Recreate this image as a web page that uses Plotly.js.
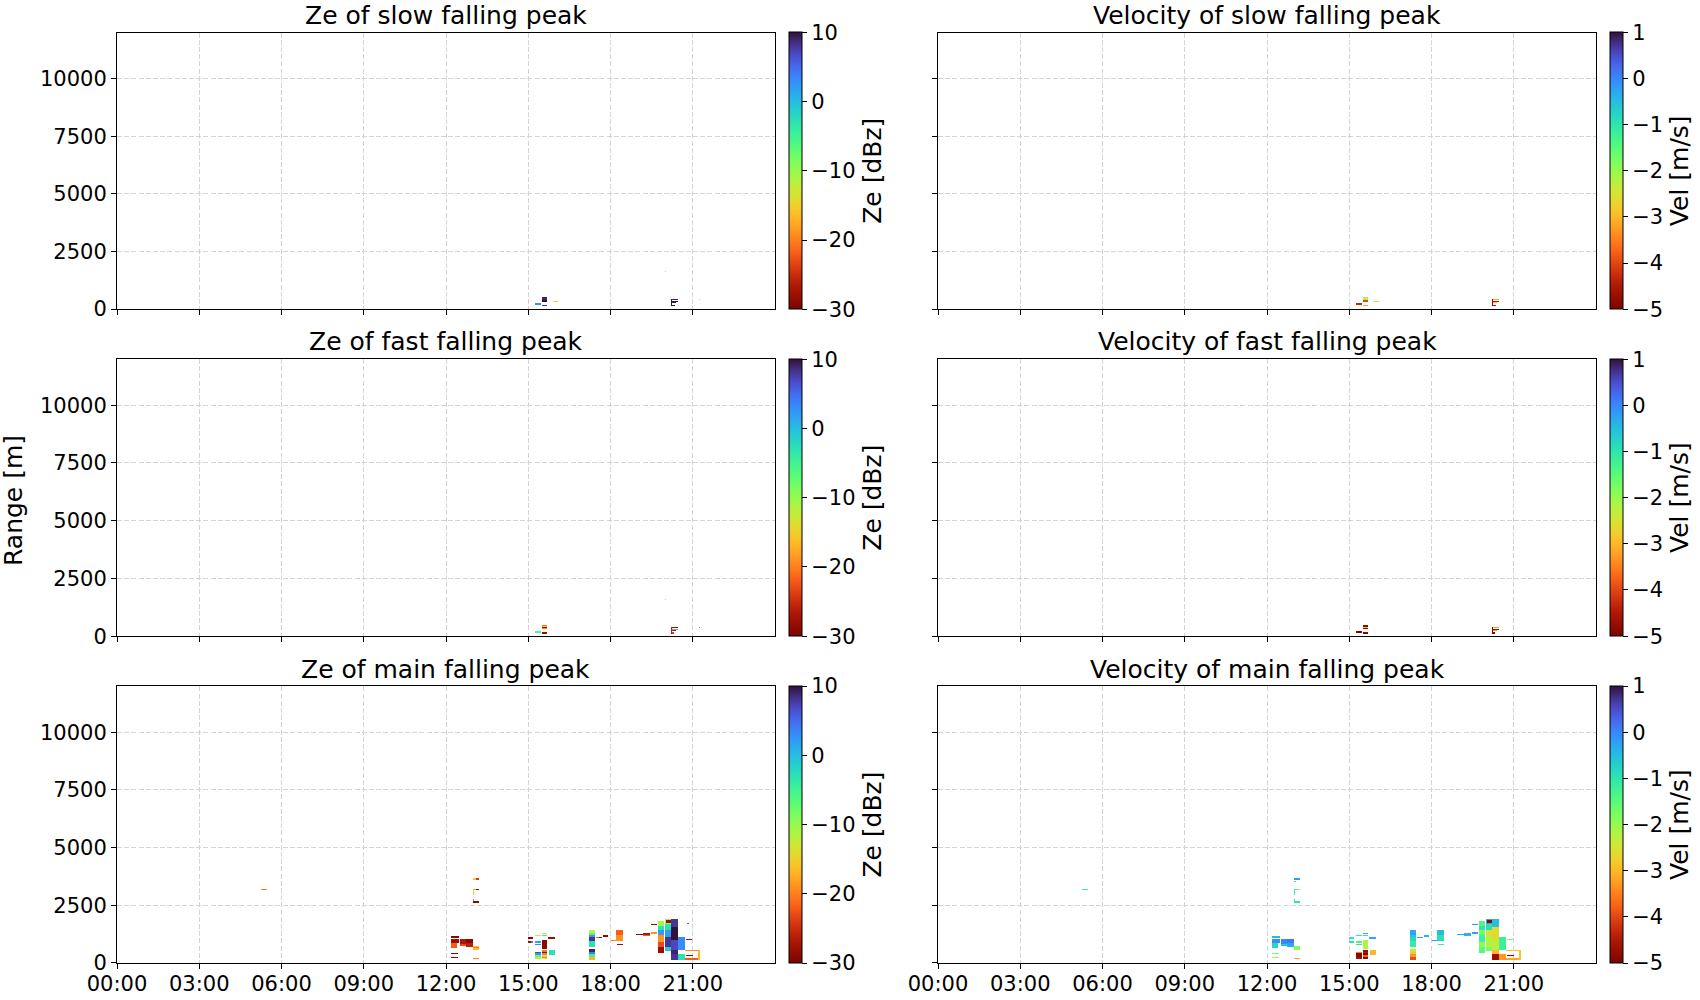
<!DOCTYPE html>
<html>
<head>
<meta charset="utf-8">
<script src="https://cdn.plot.ly/plotly-3.0.1.min.js"></script>
<style>html,body{margin:0;padding:0;background:#fff;}#plot{width:1700px;height:1000px;}</style>
</head>
<body>
<div id="plot"></div>
<script>
// ---------------- data ----------------
const TIME_TICKS = [0, 3, 6, 9, 12, 15, 18, 21];
const TIME_LABELS = ["00:00", "03:00", "06:00", "09:00", "12:00", "15:00", "18:00", "21:00"];
const RANGE_TICKS = [0, 2500, 5000, 7500, 10000];
const RANGE_LABELS = ["0", "2500", "5000", "7500", "10000"];
const ZE_TICKS = [-30, -20, -10, 0, 10];
const ZE_LABELS = ["\u221230", "\u221220", "\u221210", "0", "10"];
const VEL_TICKS = [-5, -4, -3, -2, -1, 0, 1];
const VEL_LABELS = ["\u22125", "\u22124", "\u22123", "\u22122", "\u22121", "0", "1"];
const TITLES = ["Ze of slow falling peak", "Velocity of slow falling peak",
                "Ze of fast falling peak", "Velocity of fast falling peak",
                "Ze of main falling peak", "Velocity of main falling peak"];

// slow falling peak: time start/end [h], range bottom/top [m], Ze [dBz], Vel [m/s]
const slowStart = [15.24, 15.50, 15.50, 15.50, 15.90, 20.00, 21.23, 20.25, 20.20, 20.25, 20.20, 20.25];
const slowEnd   = [15.45, 15.67, 15.67, 15.67, 16.10, 20.03, 21.26, 20.45, 20.45, 20.40, 20.25, 20.33];
const slowLow   = [180, 390, 300, 140, 310, 1610, 410, 400, 290, 240, 140, 140];
const slowHigh  = [230, 520, 390, 180, 350, 1640, 440, 440, 340, 280, 440, 180];
const slowZe    = [3, 9, 10, 8, -15, -10, -12, 9, 10, 9, 10, 10];
const slowVel   = [-4.3, -2.3, -4.0, -3.2, -2.7, null, null, -3.2, -4.5, -3.0, -4.8, -4.6];

// fast falling peak
const fastStart = [15.24, 15.50, 15.50, 15.50, 15.50, 15.50, 20.00, 21.23, 20.25, 20.20, 20.20, 20.20, 20.20];
const fastEnd   = [15.45, 15.67, 15.67, 15.67, 15.67, 15.67, 20.03, 21.26, 20.45, 20.45, 20.40, 20.30, 20.25];
const fastLow   = [190, 470, 420, 370, 320, 150, 1590, 410, 400, 290, 250, 150, 150];
const fastHigh  = [240, 520, 470, 420, 370, 190, 1620, 440, 440, 330, 290, 190, 430];
const fastZe    = [-6, -21, -15, -29, -20, -28, -14, -22, 9, -20, 8, -24, -26];
const fastVel   = [-5.0, -4.9, -4.8, -2.8, -4.9, -4.9, null, null, -3.2, -4.8, -3.3, -4.9, -5.0];

// main falling peak
const mainStart = [5.25, 12.98, 13.09, 13.00, 12.98, 13.09, 12.98, 12.98, 12.98, 12.20,
                   12.20, 12.20, 12.50, 12.50, 12.73, 12.73, 13.00, 13.00, 13.00, 12.70,
                   12.20, 12.20, 13.00, 15.00, 15.00, 15.10, 15.24, 15.24, 15.24, 15.50,
                   15.50, 15.50, 15.73, 15.24, 15.24, 15.24, 15.24, 15.50, 15.50, 15.50,
                   15.50, 15.50, 15.50, 15.75, 17.21, 17.21, 17.21, 17.21, 17.21, 17.21,
                   17.21, 17.21, 17.21, 17.49, 17.58, 17.74, 18.00, 18.20, 18.20, 18.25,
                   18.50, 18.95, 19.19, 19.19, 19.47, 19.47, 19.72, 19.72, 19.72, 19.72,
                   19.72, 19.72, 19.98, 20.05, 19.98, 19.98, 19.98, 19.98, 20.20, 20.20,
                   20.20, 20.20, 20.20, 20.47, 20.47, 20.71, 20.71, 21.20, 20.75, 20.74, 20.80];
const mainEnd   = [5.45, 13.09, 13.20, 13.05, 13.09, 13.20, 13.02, 13.02, 13.20, 12.45,
                   12.45, 12.40, 12.72, 12.72, 12.97, 12.97, 13.20, 13.20, 13.20, 12.92,
                   12.42, 12.42, 13.20, 15.18, 15.10, 15.18, 15.45, 15.45, 15.45, 15.70,
                   15.70, 15.70, 15.97, 15.45, 15.45, 15.45, 15.45, 15.70, 15.70, 15.70,
                   15.70, 15.70, 15.70, 15.97, 17.43, 17.43, 17.43, 17.43, 17.43, 17.43,
                   17.43, 17.43, 17.43, 17.58, 17.67, 17.90, 18.20, 18.45, 18.45, 18.45,
                   18.68, 19.19, 19.44, 19.44, 19.68, 19.68, 19.93, 19.93, 19.93, 19.93,
                   19.93, 19.93, 20.20, 20.20, 20.20, 20.20, 20.20, 20.20, 20.45, 20.45,
                   20.45, 20.45, 20.45, 20.71, 20.71, 21.25, 21.25, 21.25, 21.00, 20.95, 20.85];
const mainLow   = [3140, 3610, 3610, 3520, 3140, 3140, 2950, 2630, 2610, 1080,
                   840, 650, 800, 720, 860, 700, 680, 620, 560, 400,
                   360, 210, 150, 1050, 870, 870, 1160, 870, 780, 1260,
                   1150, 600, 1050, 400, 320, 240, 160, 470, 400, 320,
                   240, 180, 150, 320, 1300, 1200, 1100, 920, 700, 480,
                   360, 250, 130, 1080, 1080, 1130, 940, 1200, 940, 780,
                   1920, 1190, 1220, 1150, 1250, 1630, 1600, 1400, 1200, 900,
                   700, 420, 1700, 1750, 1400, 1100, 700, 500, 1550, 1000,
                   560, 350, 130, 560, 130, 520, 130, 130, 280, 980, 1680];
const mainHigh  = [3180, 3660, 3660, 3550, 3180, 3180, 3130, 2760, 2650, 1130,
                   1040, 840, 1040, 800, 1040, 860, 740, 680, 620, 440,
                   400, 250, 190, 1090, 910, 910, 1200, 910, 820, 1300,
                   1210, 1000, 1090, 460, 400, 320, 240, 530, 470, 400,
                   320, 240, 180, 530, 1430, 1300, 1200, 1100, 920, 570,
                   480, 360, 250, 1120, 1120, 1170, 1000, 1430, 1200, 820,
                   1960, 1230, 1300, 1220, 1340, 1670, 1800, 1600, 1400, 1200,
                   900, 700, 1880, 1830, 1700, 1400, 1100, 700, 1880, 1550,
                   1000, 560, 350, 1100, 350, 560, 170, 560, 320, 1020, 1720];
const mainZe    = [-20, -15, -24, null, -18, -29, -14, -21, -29, -29,
                   -28, -22, -27, -23, -29, -26, -16, -20, -17, -21,
                   -29, -29, -20, -29, -28, 3, -12, 2, 3, -12,
                   -4, -29, -28, 7, 2, -7, -12, -21, 9, -20,
                   -14, -20, -12, -3, -12, -6, 2, 8, -3, 9,
                   4, -5, -17, -22, -28, -29, -20, -22, -19, -28,
                   -28, -29, -27, -22, -19, -29, -11, -3, 2, -19,
                   -23, -28, -10, -28, -3, 2, 8, -1, 8, 10,
                   7, 9, 8, 3, -3, -19, -22, -17, -28, -28, 5];
const mainVel   = [-1.1, -0.2, -0.2, -1.0, -1.2, -2.2, -1.1, -1.0, -1.0, -0.5,
                   -0.1, -0.8, 0.0, -0.6, 0.1, -0.3, -1.8, -1.7, -1.9, -0.1,
                   -1.7, -2.0, -3.2, -1.0, -1.0, -1.0, -1.0, -1.3, -1.0, -0.3,
                   -0.9, -2.2, -0.3, -3.5, -4.9, -4.9, -4.6, -4.8, -4.5, -4.9,
                   -3.8, -4.9, -4.8, -3.0, -0.3, -0.2, -0.6, -0.8, -1.1, -2.3,
                   -2.8, -3.3, -3.9, -0.3, -0.3, -0.4, -0.1, -0.5, -0.9, -1.1,
                   0.0, -0.3, -0.4, -0.4, -0.2, -0.1, -1.4, -1.0, -1.7, -1.2,
                   -1.9, -1.5, -0.3, -4.9, -0.9, -2.5, -2.2, -1.8, -0.5, -2.6,
                   -2.3, -3.0, -4.7, -1.2, -3.3, -2.8, -3.2, -2.9, -4.9, -1.8, null];

// ---------------- build ----------------
const DT = 0.02, DR = 20, NT = Math.round(24 / DT), NR = Math.round(4000 / DR);
function buildGrid(t0, t1, r0, r1, vals) {
  const z = [];
  for (let j = 0; j < NR; j++) z.push(new Array(NT).fill(null));
  for (let k = 0; k < t0.length; k++) {
    if (vals[k] === null) continue;
    const i0 = Math.floor(t0[k] / DT + 1e-6), i1 = Math.ceil(t1[k] / DT - 1e-6);
    const j0 = Math.floor(r0[k] / DR + 1e-6), j1 = Math.ceil(r1[k] / DR - 1e-6);
    for (let j = j0; j < j1; j++) for (let i = i0; i < i1; i++) z[j][i] = vals[k];
  }
  return z;
}
function turbo(t) {
  const r = 0.13572138 + t * (4.61539260 + t * (-42.66032258 + t * (132.13108234 + t * (-152.94239396 + t * 59.28637943))));
  const g = 0.09140261 + t * (2.19418839 + t * (4.84296658 + t * (-14.18503333 + t * (4.27729857 + t * 2.82956604))));
  const b = 0.10667330 + t * (12.64194608 + t * (-60.58204836 + t * (110.36276771 + t * (-89.90310912 + t * 27.34824973))));
  const c = v => Math.round(255 * Math.max(0, Math.min(1, v)));
  return `rgb(${c(r)},${c(g)},${c(b)})`;
}
const CS = [];
for (let k = 0; k <= 24; k++) {
  const s = k / 24;
  let col = turbo(1 - s);
  if (k === 0) col = 'rgb(122,4,3)';
  if (k === 24) col = 'rgb(48,18,59)';
  CS.push([s, col]);
}

const FONT = 'DejaVu Sans, Liberation Sans, sans-serif';
const W = 1700, H = 1000;
const XD = [[117 / W, 775 / W], [938 / W, 1596 / W]];
const YD = [[1 - 309 / H, 1 - 32.5 / H], [1 - 636.4 / H, 1 - 358.9 / H], [1 - 962.8 / H, 1 - 686.3 / H]];
const CBX = [789 / W, 1610 / W];

const peaks = [
  [slowStart, slowEnd, slowLow, slowHigh, slowZe, slowVel],
  [fastStart, fastEnd, fastLow, fastHigh, fastZe, fastVel],
  [mainStart, mainEnd, mainLow, mainHigh, mainZe, mainVel]
];

const traces = [];
const layout = {
  width: W, height: H, margin: {l: 0, r: 0, t: 0, b: 0},
  paper_bgcolor: '#fff', plot_bgcolor: '#fff', showlegend: false,
  font: {family: FONT, color: '#000', size: 21},
  annotations: []
};
let n = 0;
for (let row = 0; row < 3; row++) {
  const p = peaks[row];
  for (let col = 0; col < 2; col++) {
    n++;
    const isZe = col === 0;
    const z = buildGrid(p[0], p[1], p[2], p[3], isZe ? p[4] : p[5]);
    const yc = (YD[row][0] + YD[row][1]) / 2;
    traces.push({
      type: 'heatmap', z: z, x0: DT / 2, dx: DT, y0: DR / 2, dy: DR,
      xaxis: 'x' + (n === 1 ? '' : n), yaxis: 'y' + (n === 1 ? '' : n),
      colorscale: CS, zmin: isZe ? -30 : -5, zmax: isZe ? 10 : 1,
      zsmooth: false, hoverinfo: 'skip',
      colorbar: {
        x: CBX[col], xanchor: 'left', xpad: 0, y: yc, yanchor: 'middle', ypad: 0,
        len: 277, lenmode: 'pixels', thickness: 13, thicknessmode: 'pixels',
        outlinewidth: 1, outlinecolor: '#000', bgcolor: 'rgba(0,0,0,0)',
        ticks: 'outside', ticklen: 5, tickwidth: 1, tickcolor: '#000',
        tickmode: 'array', tickvals: isZe ? ZE_TICKS : VEL_TICKS, ticktext: isZe ? ZE_LABELS : VEL_LABELS,
        tickfont: {family: FONT, size: 21, color: '#000'},
        title: {text: isZe ? 'Ze [dBz]' : 'Vel [m/s]', side: 'right', font: {family: FONT, size: 25, color: '#000'}}
      }
    });
    const ax = {
      domain: XD[col], range: [0, 24], showline: true, mirror: true, linecolor: '#000', linewidth: 1,
      ticks: 'outside', ticklen: 5, tickwidth: 1, tickcolor: '#000', ticklabelstandoff: -3,
      tickmode: 'array', tickvals: TIME_TICKS, ticktext: TIME_LABELS,
      showticklabels: row === 2, tickfont: {family: FONT, size: 21, color: '#000'},
      showgrid: true, gridcolor: '#d4d4d4', gridwidth: 1, griddash: '5px,2.2px', zeroline: false,
      anchor: 'y' + (n === 1 ? '' : n), fixedrange: true
    };
    const ay = {
      domain: YD[row], range: [0, 12000], showline: true, mirror: true, linecolor: '#000', linewidth: 1,
      ticks: 'outside', ticklen: 5, tickwidth: 1, tickcolor: '#000',
      tickmode: 'array', tickvals: RANGE_TICKS, ticktext: RANGE_LABELS,
      showticklabels: col === 0, tickfont: {family: FONT, size: 21, color: '#000'},
      showgrid: true, gridcolor: '#d4d4d4', gridwidth: 1, griddash: '5px,2.2px', zeroline: false,
      anchor: 'x' + (n === 1 ? '' : n), fixedrange: true
    };
    layout['xaxis' + (n === 1 ? '' : n)] = ax;
    layout['yaxis' + (n === 1 ? '' : n)] = ay;
    layout.annotations.push({
      text: TITLES[n - 1], xref: 'paper', yref: 'paper',
      x: (XD[col][0] + XD[col][1]) / 2, y: YD[row][1], xanchor: 'center', yanchor: 'middle',
      yshift: 17, showarrow: false, font: {family: FONT, size: 25, color: '#000'}
    });
  }
}
layout.annotations.push({
  text: 'Range [m]', xref: 'paper', yref: 'paper', x: 13 / W, y: 1 - 501 / H,
  xanchor: 'center', yanchor: 'middle', textangle: -90, showarrow: false,
  font: {family: FONT, size: 25, color: '#000'}
});

Plotly.newPlot('plot', traces, layout, {staticPlot: true, displayModeBar: false});
</script>
</body>
</html>
